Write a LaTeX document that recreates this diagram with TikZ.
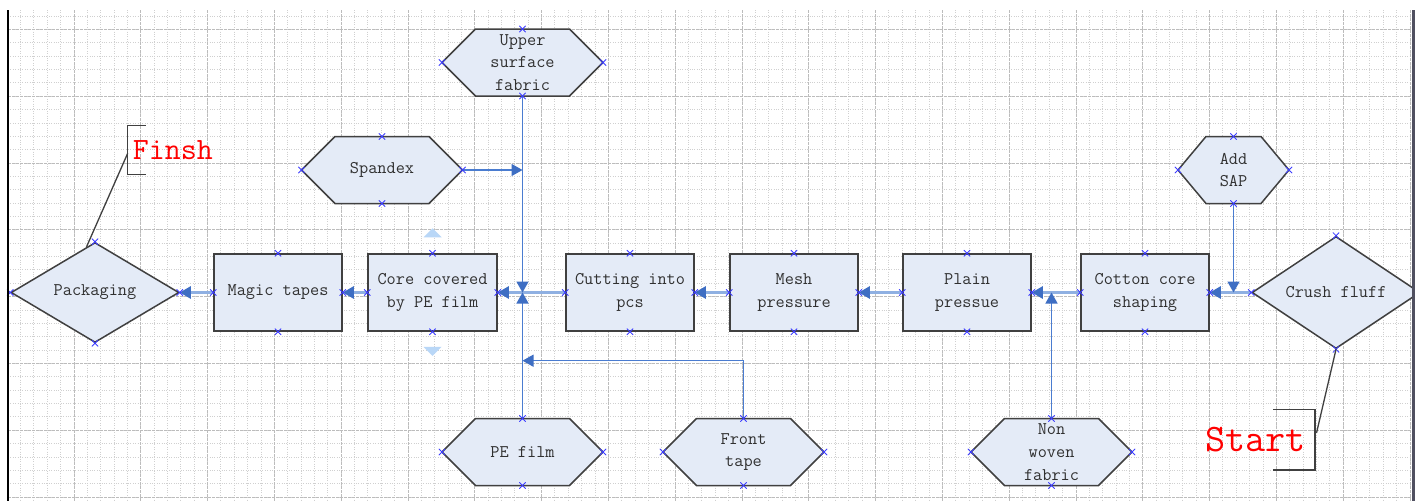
\documentclass[tikz,border=0pt]{standalone}
\usepackage{fontspec}
\usetikzlibrary{shapes.geometric,arrows.meta,calc}

\definecolor{boxfill}{RGB}{228,235,247}
\definecolor{boxline}{RGB}{64,64,64}
\definecolor{boxtext}{RGB}{48,48,48}
\definecolor{flowlight}{RGB}{143,176,226}
\definecolor{flowdark}{RGB}{62,110,195}
\definecolor{feedblue}{RGB}{74,124,208}
\definecolor{pinblue}{RGB}{60,60,255}
\definecolor{hintblue}{RGB}{185,215,247}
\definecolor{gridminor}{RGB}{208,208,208}
\definecolor{gridmajor}{RGB}{188,188,188}
\definecolor{frameright}{RGB}{80,80,96}

\pgfdeclarelayer{grid}
\pgfdeclarelayer{hexfill}
\pgfsetlayers{grid,hexfill,main}

\tikzset{
  label text/.style={font=\fontsize{17.8}{22.7}\selectfont\ttfamily, text=boxtext, align=center},
  procbox/.style={label text, rectangle, draw=boxline, fill=boxfill, line width=1.5pt,
    minimum width=128pt, minimum height=77pt, inner sep=0pt},
  choice/.style={label text, diamond, draw=boxline, fill=boxfill, line width=1.5pt,
    minimum width=168pt, minimum height=100pt, inner sep=0pt},
  inputbox/.style={label text, rectangle, minimum width=161pt, minimum height=67pt,
    inner sep=0pt, outer sep=0pt},
  hexline/.style={fill=boxfill, draw=boxline, line width=1.5pt, line join=miter},
  mainflow/.style={draw=flowlight, line width=2.4pt,
    -{Triangle[length=11pt,width=12pt,color=flowdark]}},
  feed/.style={draw=feedblue, line width=1.4pt,
    -{Triangle[length=11pt,width=12pt,color=flowdark]}},
  pin/.style={draw=pinblue, line width=0.8pt},
  callout/.style={draw=boxline, line width=1.3pt},
  redtag/.style={anchor=base west, inner sep=0pt, text=red},
  minorgrid/.style={draw=gridminor, line width=0.6pt, dash pattern=on 0.8pt off 1.6pt},
  majorgrid/.style={draw=gridmajor, line width=0.6pt, dash pattern=on 2.5pt off 1.5pt},
}

\begin{document}
\begin{tikzpicture}[x=1pt,y=-1pt]
\useasboundingbox (0,0) rectangle (1419,501);

% drawing sheet with its dotted grid
\begin{pgfonlayer}{grid}
  \fill[white] (0,0) rectangle (1419,501);
  \foreach \k in {1,...,105} {
    \pgfmathsetmacro\gx{7+13.36*\k}
    \draw[minorgrid] (\gx,10) -- (\gx,501);
  }
  \foreach \k in {-1,...,35} {
    \pgfmathsetmacro\gy{29.3+13.36*\k}
    \draw[minorgrid] (8,\gy) -- (1413,\gy);
  }
  \foreach \k in {1,...,21} {
    \pgfmathsetmacro\gx{7+66.8*\k}
    \draw[majorgrid] (\gx,10) -- (\gx,501);
  }
  \foreach \k in {0,...,7} {
    \pgfmathsetmacro\gy{29.3+66.8*\k}
    \draw[majorgrid] (8,\gy) -- (1413,\gy);
  }
\end{pgfonlayer}

% process steps
\node[choice] (pack) at (95,292.5) {Packaging};
\node[procbox] (magic) at (278,292.5) {Magic tapes};
\node[procbox, minimum width=129pt] (core) at (432.5,292.5) {Core covered\\by PE film};
\node[procbox] (cut) at (630,292.5) {Cutting into\\pcs};
\node[procbox] (mesh) at (794,292.5) {Mesh\\pressure};
\node[procbox] (plain) at (967,292.5) {Plain\\pressue};
\node[procbox] (cotton) at (1145,292.5) {Cotton core\\shaping};
\node[choice] (crush) at (1336,292.5) {Crush fluff};

% material inputs
\node[inputbox] (upper) at (522.5,62.5) {Upper\\surface\\fabric};
\node[inputbox] (spandex) at (382,170) {Spandex};
\node[inputbox, minimum width=111pt] (sap) at (1233.5,170) {Add\\SAP};
\node[inputbox] (pefilm) at (522.5,452) {PE film};
\node[inputbox] (front) at (743.5,452) {Front\\tape};
\node[inputbox] (nonwoven) at (1051.5,452) {Non\\woven\\fabric};

\begin{pgfonlayer}{hexfill}
  \foreach \n/\c in {upper/33.5, spandex/33.5, sap/28, pefilm/33.5, front/33.5, nonwoven/33.5}
    \filldraw[hexline] (\n.west) -- ([xshift=\c pt]\n.north west)
      -- ([xshift=-\c pt]\n.north east) -- (\n.east)
      -- ([xshift=-\c pt]\n.south east) -- ([xshift=\c pt]\n.south west) -- cycle;
\end{pgfonlayer}

% main line, right to left
\draw[mainflow] (crush.west) -- (cotton.east);
\draw[mainflow] (cotton.west) -- (plain.east);
\draw[mainflow] (plain.west) -- (mesh.east);
\draw[mainflow] (mesh.west) -- (cut.east);
\draw[mainflow] (cut.west) -- (core.east);
\draw[mainflow] (core.west) -- (magic.east);
\draw[mainflow] (magic.west) -- (pack.east);

% feeds joining the main line
\draw[feed] (sap.south) -- (sap.south |- cotton.east);
\draw[feed] (nonwoven.north) -- (nonwoven.north |- plain.east);
\draw[feed] (upper.south) -- (upper.south |- core.east);
\draw[feed] (pefilm.north) -- (pefilm.north |- core.east);
\draw[feed] (spandex.east) -- (spandex.east -| upper.south);
\coordinate (tapejoin) at (522.5,360.7);
\draw[feed] (front.north) |- (tapejoin);

% connection points
\foreach \n in {pack,magic,core,cut,mesh,plain,cotton,crush,upper,spandex,sap,pefilm,front,nonwoven}
  \foreach \a in {north,south,east,west}
    \draw[pin] ([shift={(-3.2pt,-3.2pt)}]\n.\a) -- ([shift={(3.2pt,3.2pt)}]\n.\a)
               ([shift={(-3.2pt,3.2pt)}]\n.\a) -- ([shift={(3.2pt,-3.2pt)}]\n.\a);

% resize hints of the selected step
\fill[hintblue] ([xshift=-9pt,yshift=16pt]core.north) -- ([xshift=9pt,yshift=16pt]core.north)
  -- ([yshift=25pt]core.north) -- cycle;
\fill[hintblue] ([xshift=-9pt,yshift=-15pt]core.south) -- ([xshift=9pt,yshift=-15pt]core.south)
  -- ([yshift=-24pt]core.south) -- cycle;

% end and start annotations
\node[redtag, font=\fontsize{31}{31}\selectfont\ttfamily] (finish) at (132.7,159.3) {Finsh};
\draw[callout] (145.7,125.7) -- (127.7,125.7) -- (127.7,174.3) -- (145.7,174.3);
\coordinate (finpin) at (127.7,153.3);
\draw[callout] (finpin) -- ($(pack.north)!0.1!(pack.west)$);

\node[redtag, font=\fontsize{39}{39}\selectfont\ttfamily] (start) at (1205,451.7) {Start};
\draw[callout] (1273,409.3) -- (1315,409.3) -- (1315,470) -- (1273,470);
\coordinate (startpin) at (1316.5,433);
\draw[callout] (startpin) -- (crush.south);

% sheet edges
\fill[white] (1415,0) rectangle (1419,501);
\draw[black, line width=2pt] (7.5,10) -- (7.5,501);
\draw[frameright, line width=3pt] (1413.5,10) -- (1413.5,501);
\end{tikzpicture}
\end{document}
